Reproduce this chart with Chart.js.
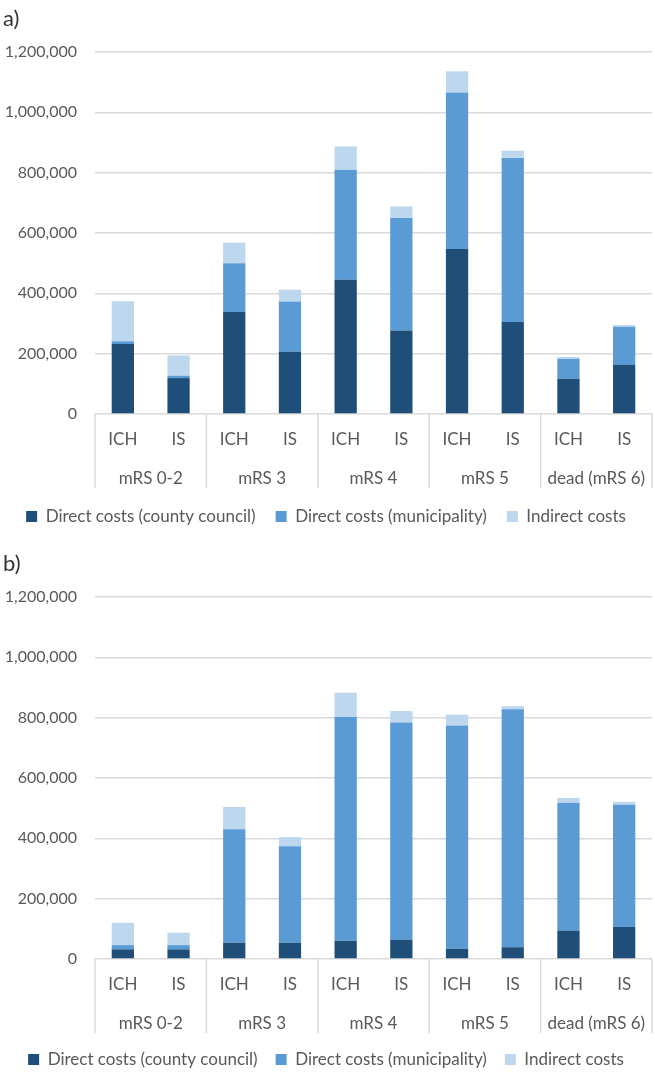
<!DOCTYPE html>
<html>
<head>
<meta charset="utf-8">
<title>Costs by mRS and stroke type</title>
<script src="https://cdn.jsdelivr.net/npm/chart.js@4.4.1/dist/chart.umd.min.js"></script>
<style>
  html, body { margin: 0; padding: 0; background: #fff; overflow: hidden; }
  .panel { position: relative; width: 655px; height: 545px; }
  .panel-label { position: absolute; left: 3px; top: 4px; font-family: Lato, sans-serif; font-size: 22px; color: #333; }
  canvas { display: block; }
</style>
</head>
<body>
<div class="panel"><div class="panel-label">a)</div><canvas id="chartA" width="655" height="545"></canvas></div>
<div class="panel"><div class="panel-label">b)</div><canvas id="chartB" width="655" height="545"></canvas></div>
<script>
// Categories
const subLabels = ['ICH', 'IS', 'ICH', 'IS', 'ICH', 'IS', 'ICH', 'IS', 'ICH', 'IS'];
const groupLabels = ['mRS 0-2', 'mRS 3', 'mRS 4', 'mRS 5', 'dead (mRS 6)'];
const seriesNames = ['Direct costs (county council)', 'Direct costs (municipality)', 'Indirect costs'];
const seriesColors = ['#1F4E79', '#5B9BD5', '#BDD7EE'];

// Panel a)
const countyA = [232000, 119000, 338000, 206000, 445000, 277000, 547000, 305000, 117000, 163000];
const municipalityA = [9000, 8000, 162000, 167000, 365000, 373000, 519000, 544000, 66000, 126000];
const indirectA = [133000, 67000, 68000, 39000, 77000, 38000, 70000, 24000, 6000, 6000];

// Panel b)
const countyB = [32000, 32000, 54000, 54000, 61000, 64000, 34000, 39000, 94000, 106000];
const municipalityB = [14000, 14000, 376000, 320000, 741000, 720000, 740000, 789000, 424000, 405000];
const indirectB = [74000, 41000, 74000, 30000, 81000, 38000, 36000, 10000, 16000, 10000];

const gridColor = '#D9D9D9';
const textColor = '#595959';
const fontFamily = 'Lato, sans-serif';

// Vertical lines between the mRS groups, under the plot
const groupSeparators = {
    id: 'groupSeparators',
    afterDraw(chart) {
        const x = chart.scales.x;
        const x2 = chart.scales.x2;
        const ctx = chart.ctx;
        ctx.save();
        ctx.strokeStyle = gridColor;
        ctx.lineWidth = 1.5;
        ctx.beginPath();
        for (let i = 0; i <= groupLabels.length; i++) {
            const px = x.getPixelForValue(i * 2 - 0.5);
            ctx.moveTo(px, chart.chartArea.bottom);
            ctx.lineTo(px, x2.bottom);
        }
        ctx.stroke();
        ctx.restore();
    }
};

function makeChart(canvasId, county, municipality, indirect, legendPadding, bottomPadding) {
    const ctx = document.getElementById(canvasId).getContext('2d');
    const values = [county, municipality, indirect];

    return new Chart(ctx, {
        type: 'bar',
        data: {
            labels: subLabels,
            datasets: seriesNames.map((name, i) => ({
                label: name,
                data: values[i],
                backgroundColor: seriesColors[i],
                borderWidth: 0,
                barPercentage: 0.4,
                categoryPercentage: 1
            }))
        },
        options: {
            responsive: false,
            animation: false,
            layout: {
                padding: { top: 52, right: 3, left: 0, bottom: bottomPadding }
            },
            plugins: {
                legend: {
                    position: 'bottom',
                    labels: {
                        boxWidth: 11,
                        boxHeight: 11,
                        padding: legendPadding,
                        color: textColor,
                        font: { family: fontFamily, size: 17 }
                    }
                },
                tooltip: { enabled: false }
            },
            scales: {
                y: {
                    stacked: true,
                    min: 0,
                    max: 1200000,
                    ticks: {
                        stepSize: 200000,
                        padding: 18,
                        color: textColor,
                        font: { family: fontFamily, size: 16 },
                        callback: (v) => v.toLocaleString('en-US')
                    },
                    grid: { color: gridColor, lineWidth: 1.5, drawTicks: false },
                    border: { display: false },
                    afterFit: (scale) => { scale.width = 95; }
                },
                x: {
                    stacked: true,
                    grid: { display: false, drawTicks: false },
                    border: { display: false },
                    ticks: {
                        padding: 15,
                        maxRotation: 0,
                        color: textColor,
                        font: { family: fontFamily, size: 17 }
                    },
                    afterFit: (scale) => { scale.height = 46; }
                },
                x2: {
                    type: 'category',
                    position: 'bottom',
                    labels: groupLabels,
                    offset: true,
                    grid: { display: false, drawTicks: false },
                    border: { display: false },
                    ticks: {
                        padding: 8,
                        maxRotation: 0,
                        color: textColor,
                        font: { family: fontFamily, size: 17 }
                    },
                    afterFit: (scale) => { scale.height = 28; }
                }
            }
        },
        plugins: [groupSeparators]
    });
}

document.addEventListener('DOMContentLoaded', function() {
    makeChart('chartA', countyA, municipalityA, indirectA, 20, 10);
    makeChart('chartB', countyB, municipalityB, indirectB, 18, 12);
});
</script>
</body>
</html>
